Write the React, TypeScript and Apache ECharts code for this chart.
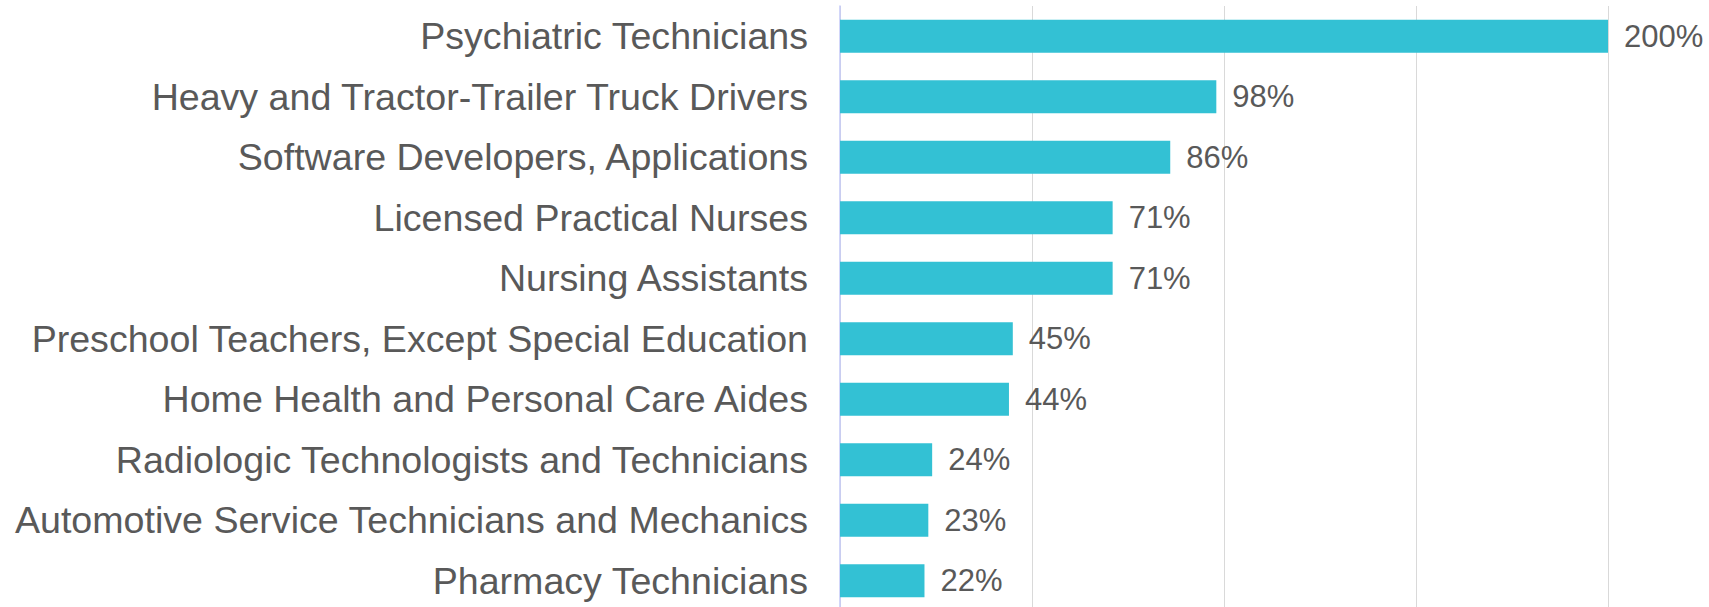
import React, { useEffect, useRef } from "react";
import * as echarts from "echarts";

const categories = [
  "Psychiatric Technicians",
  "Heavy and Tractor-Trailer Truck Drivers",
  "Software Developers, Applications",
  "Licensed Practical Nurses",
  "Nursing Assistants",
  "Preschool Teachers, Except Special Education",
  "Home Health and Personal Care Aides",
  "Radiologic Technologists and Technicians",
  "Automotive Service Technicians and Mechanics",
  "Pharmacy Technicians",
];
const values = [200, 98, 86, 71, 71, 45, 44, 24, 23, 22];

export default function App() {
  const ref = useRef<HTMLDivElement>(null);
  useEffect(() => {
    if (!ref.current) return;
    const chart = echarts.init(ref.current, null, { renderer: "svg" });
    chart.setOption({
      animation: false,
      backgroundColor: "#ffffff",
      grid: { left: 840, right: 101, top: 6, bottom: 0, containLabel: false },
      xAxis: {
        type: "value",
        min: 0,
        max: 200,
        interval: 50,
        axisLabel: { show: false },
        axisLine: { show: false },
        axisTick: { show: false },
        splitLine: { show: true, lineStyle: { color: "#d9d9d9", width: 1 } },
      },
      yAxis: {
        type: "category",
        data: categories,
        inverse: true,
        axisTick: { show: false },
        axisLine: { show: true, lineStyle: { color: "#c3c9f7", width: 1.5 } },
        axisLabel: {
          color: "#595959",
          fontSize: 37.6,
          fontFamily: "Liberation Sans, Arial, sans-serif",
          margin: 32,
        },
      },
      series: [
        {
          type: "bar",
          data: values,
          barWidth: 33,
          itemStyle: { color: "#33c1d4" },
          label: {
            show: true,
            position: "right",
            distance: 16,
            formatter: "{c}%",
            color: "#595959",
            fontSize: 31,
            fontFamily: "Liberation Sans, Arial, sans-serif",
          },
        },
      ],
    });
    return () => chart.dispose();
  }, []);
  return (
    <div
      ref={ref}
      style={{ position: "absolute", left: 0, top: 0, width: 1709, height: 611 }}
    />
  );
}
